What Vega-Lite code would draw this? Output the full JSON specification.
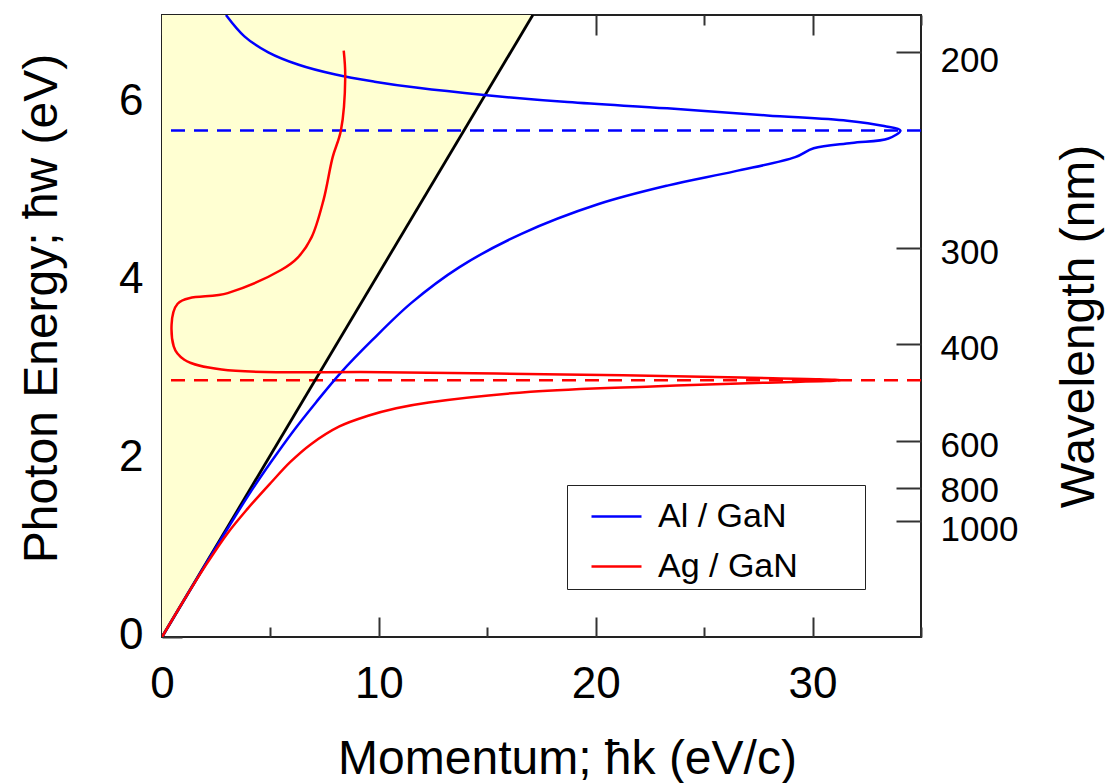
{
  "$schema": "https://vega.github.io/schema/vega-lite/v6.json",
  "width": 759,
  "height": 622,
  "autosize": "none",
  "padding": {"left": 162, "top": 15, "right": 188, "bottom": 146},
  "background": "white",
  "config": {
    "view": {"stroke": "#222222", "strokeWidth": 2},
    "font": "Liberation Sans",
    "axis": {
      "domain": false,
      "grid": false,
      "zindex": 1,
      "labelFont": "Liberation Sans",
      "titleFont": "Liberation Sans",
      "labelColor": "black",
      "titleColor": "black",
      "titleFontWeight": "normal",
      "tickColor": "#333333",
      "tickWidth": 2,
      "labelFlush": false,
      "labelOverlap": false
    }
  },
  "datasets": {
    "cone": [{"k": 0, "E": 0}, {"k": 17.1, "E": 7}],
    "resonance": [{"series": "Al / GaN", "E": 5.7}, {"series": "Ag / GaN", "E": 2.89}],
    "disp": [
      {"series": "Al / GaN", "i": 0, "k": 0, "E": 0},
      {"series": "Al / GaN", "i": 1, "k": 1, "E": 0.41},
      {"series": "Al / GaN", "i": 2, "k": 2, "E": 0.815},
      {"series": "Al / GaN", "i": 3, "k": 3, "E": 1.21},
      {"series": "Al / GaN", "i": 4, "k": 4, "E": 1.6},
      {"series": "Al / GaN", "i": 5, "k": 5, "E": 1.96},
      {"series": "Al / GaN", "i": 6, "k": 6, "E": 2.3},
      {"series": "Al / GaN", "i": 7, "k": 7.1, "E": 2.64},
      {"series": "Al / GaN", "i": 8, "k": 8.23, "E": 2.97},
      {"series": "Al / GaN", "i": 9, "k": 9.69, "E": 3.34},
      {"series": "Al / GaN", "i": 10, "k": 11.5, "E": 3.76},
      {"series": "Al / GaN", "i": 11, "k": 13.7, "E": 4.16},
      {"series": "Al / GaN", "i": 12, "k": 16.6, "E": 4.54},
      {"series": "Al / GaN", "i": 13, "k": 20.1, "E": 4.87},
      {"series": "Al / GaN", "i": 14, "k": 23.3, "E": 5.08},
      {"series": "Al / GaN", "i": 15, "k": 26.4, "E": 5.24},
      {"series": "Al / GaN", "i": 16, "k": 29.2, "E": 5.4},
      {"series": "Al / GaN", "i": 17, "k": 30.05, "E": 5.5},
      {"series": "Al / GaN", "i": 18, "k": 31.8, "E": 5.56},
      {"series": "Al / GaN", "i": 19, "k": 33.5, "E": 5.61},
      {"series": "Al / GaN", "i": 20, "k": 34.05, "E": 5.7},
      {"series": "Al / GaN", "i": 21, "k": 33.3, "E": 5.75},
      {"series": "Al / GaN", "i": 22, "k": 31.6, "E": 5.81},
      {"series": "Al / GaN", "i": 23, "k": 27.9, "E": 5.87},
      {"series": "Al / GaN", "i": 24, "k": 23.3, "E": 5.95},
      {"series": "Al / GaN", "i": 25, "k": 18.7, "E": 6.02},
      {"series": "Al / GaN", "i": 26, "k": 14.85, "E": 6.1},
      {"series": "Al / GaN", "i": 27, "k": 11.8, "E": 6.18},
      {"series": "Al / GaN", "i": 28, "k": 9.8, "E": 6.25},
      {"series": "Al / GaN", "i": 29, "k": 8.0, "E": 6.33},
      {"series": "Al / GaN", "i": 30, "k": 6.3, "E": 6.44},
      {"series": "Al / GaN", "i": 31, "k": 4.9, "E": 6.58},
      {"series": "Al / GaN", "i": 32, "k": 3.8, "E": 6.76},
      {"series": "Al / GaN", "i": 33, "k": 2.95, "E": 7.0},
      {"series": "Ag / GaN", "i": 0, "k": 0, "E": 0},
      {"series": "Ag / GaN", "i": 1, "k": 1, "E": 0.41},
      {"series": "Ag / GaN", "i": 2, "k": 2, "E": 0.8},
      {"series": "Ag / GaN", "i": 3, "k": 3, "E": 1.16},
      {"series": "Ag / GaN", "i": 4, "k": 3.9, "E": 1.43},
      {"series": "Ag / GaN", "i": 5, "k": 5.0, "E": 1.73},
      {"series": "Ag / GaN", "i": 6, "k": 5.92, "E": 1.97},
      {"series": "Ag / GaN", "i": 7, "k": 6.87, "E": 2.17},
      {"series": "Ag / GaN", "i": 8, "k": 8.18, "E": 2.37},
      {"series": "Ag / GaN", "i": 9, "k": 9.5, "E": 2.49},
      {"series": "Ag / GaN", "i": 10, "k": 10.8, "E": 2.575},
      {"series": "Ag / GaN", "i": 11, "k": 12.3, "E": 2.64},
      {"series": "Ag / GaN", "i": 12, "k": 17.0, "E": 2.76},
      {"series": "Ag / GaN", "i": 13, "k": 22.6, "E": 2.82},
      {"series": "Ag / GaN", "i": 14, "k": 27.7, "E": 2.86},
      {"series": "Ag / GaN", "i": 15, "k": 31.3, "E": 2.89},
      {"series": "Ag / GaN", "i": 16, "k": 26.7, "E": 2.92},
      {"series": "Ag / GaN", "i": 17, "k": 18.5, "E": 2.955},
      {"series": "Ag / GaN", "i": 18, "k": 10.2, "E": 2.98},
      {"series": "Ag / GaN", "i": 19, "k": 2.75, "E": 3.01},
      {"series": "Ag / GaN", "i": 20, "k": 1.03, "E": 3.12},
      {"series": "Ag / GaN", "i": 21, "k": 0.54, "E": 3.27},
      {"series": "Ag / GaN", "i": 22, "k": 0.72, "E": 3.75},
      {"series": "Ag / GaN", "i": 23, "k": 3.03, "E": 3.87},
      {"series": "Ag / GaN", "i": 24, "k": 5.49, "E": 4.13},
      {"series": "Ag / GaN", "i": 25, "k": 6.26, "E": 4.27},
      {"series": "Ag / GaN", "i": 26, "k": 6.9, "E": 4.5},
      {"series": "Ag / GaN", "i": 27, "k": 7.45, "E": 4.92},
      {"series": "Ag / GaN", "i": 28, "k": 7.87, "E": 5.4},
      {"series": "Ag / GaN", "i": 29, "k": 8.25, "E": 5.7},
      {"series": "Ag / GaN", "i": 30, "k": 8.45, "E": 6.3},
      {"series": "Ag / GaN", "i": 31, "k": 8.38, "E": 6.6}
    ]
  },
  "resolve": {"axis": {"x": "independent", "y": "independent"}},
  "layer": [
    {
      "data": {"name": "cone"},
      "mark": {"type": "area", "color": "#FFFFD2", "opacity": 1, "clip": true},
      "encoding": {
        "x": {
          "field": "k", "type": "quantitative",
          "scale": {"domain": [0, 35], "nice": false, "zero": false},
          "axis": {
            "orient": "bottom",
            "values": [0, 5, 10, 15, 20, 25, 30, 35],
            "labelExpr": "datum.value % 10 === 0 ? datum.label : ''",
            "tickSize": {"condition": {"test": "datum.value % 10 === 0", "value": -20}, "value": -10},
            "labelFontSize": 44,
            "labelPadding": 45,
            "title": "Momentum;  ħk (eV/c)",
            "titleFontSize": 48,
            "titleX": 405,
            "titleY": 136,
            "titleAlign": "center",
            "titleBaseline": "alphabetic"
          }
        },
        "y": {
          "field": "E", "type": "quantitative",
          "scale": {"domain": [0, 7], "nice": false, "zero": false},
          "axis": {
            "orient": "left",
            "values": [0, 1, 2, 3, 4, 5, 6],
            "labelExpr": "datum.value % 2 === 0 ? datum.label : ''",
            "tickSize": {"condition": {"test": "datum.value % 2 === 0", "value": -20}, "value": -10},
            "labelFontSize": 44,
            "labelPadding": 39,
            "labelOffset": -2,
            "title": "Photon Energy;  ħw (eV)",
            "titleFontSize": 48,
            "titleAngle": -90,
            "titleX": -106,
            "titleY": 293,
            "titleAlign": "center",
            "titleBaseline": "alphabetic"
          }
        },
        "y2": {"datum": 7}
      }
    },
    {
      "data": {"name": "resonance"},
      "transform": [{"filter": "datum.series === 'Al / GaN'"}],
      "mark": {"type": "rule", "color": "#0000FF", "strokeWidth": 2.5, "strokeDash": [14, 9]},
      "encoding": {
        "y": {"field": "E", "type": "quantitative", "axis": null}
      }
    },
    {
      "data": {"name": "resonance"},
      "transform": [{"filter": "datum.series === 'Ag / GaN'"}],
      "mark": {"type": "rule", "color": "#FF0000", "strokeWidth": 2.5, "strokeDash": [14, 9]},
      "encoding": {
        "y": {"field": "E", "type": "quantitative", "axis": null}
      }
    },
    {
      "data": {"name": "cone"},
      "mark": {"type": "line", "color": "black", "strokeWidth": 2.8, "clip": true},
      "encoding": {
        "x": {
          "field": "k", "type": "quantitative",
          "axis": {
            "orient": "top",
            "values": [0, 5, 10, 15, 20, 25, 30, 35],
            "labels": false,
            "tickSize": {"condition": {"test": "datum.value % 10 === 0", "value": -20}, "value": -10},
            "title": null
          }
        },
        "y": {
          "field": "E", "type": "quantitative",
          "axis": {
            "orient": "right",
            "values": [6.58, 4.376, 3.296, 2.205, 1.676, 1.305],
            "labelExpr": "datum.value > 6 ? '200' : datum.value > 4 ? '300' : datum.value > 3 ? '400' : datum.value > 2 ? '600' : datum.value > 1.5 ? '800' : '1000'",
            "tickSize": -25,
            "labelFontSize": 35,
            "labelPadding": 44,
            "labelOffset": {"condition": [
              {"test": "datum.value > 6", "value": 8},
              {"test": "datum.value < 1.5", "value": 8},
              {"test": "datum.value < 2", "value": 2}
            ], "value": 4},
            "labelAlign": "left",
            "title": "Wavelength (nm)",
            "titleFontSize": 48,
            "titleAngle": -90,
            "titleX": 172,
            "titleY": 311,
            "titleAlign": "center",
            "titleBaseline": "alphabetic"
          }
        }
      }
    },
    {
      "data": {"name": "disp"},
      "mark": {"type": "line", "strokeWidth": 2.5, "clip": true, "interpolate": "catmull-rom"},
      "encoding": {
        "x": {"field": "k", "type": "quantitative", "axis": null},
        "y": {"field": "E", "type": "quantitative", "axis": null},
        "order": {"field": "i", "type": "quantitative"},
        "color": {
          "field": "series", "type": "nominal",
          "scale": {"domain": ["Al / GaN", "Ag / GaN"], "range": ["#0000FF", "#FF0000"]},
          "legend": {
            "orient": "none",
            "legendX": 405,
            "legendY": 470,
            "title": "\u00a0",
            "titleOrient": "right",
            "titleFontSize": 8,
            "titlePadding": 62,
            "strokeColor": "#222222",
            "fillColor": "white",
            "padding": 5,
            "symbolType": "stroke",
            "symbolSize": 2500,
            "symbolStrokeWidth": 2.5,
            "symbolOffset": 18,
            "labelFont": "Liberation Sans",
            "labelFontSize": 34,
            "labelColor": "black",
            "labelOffset": 15,
            "rowPadding": 6
          }
        }
      }
    }
  ]
}
